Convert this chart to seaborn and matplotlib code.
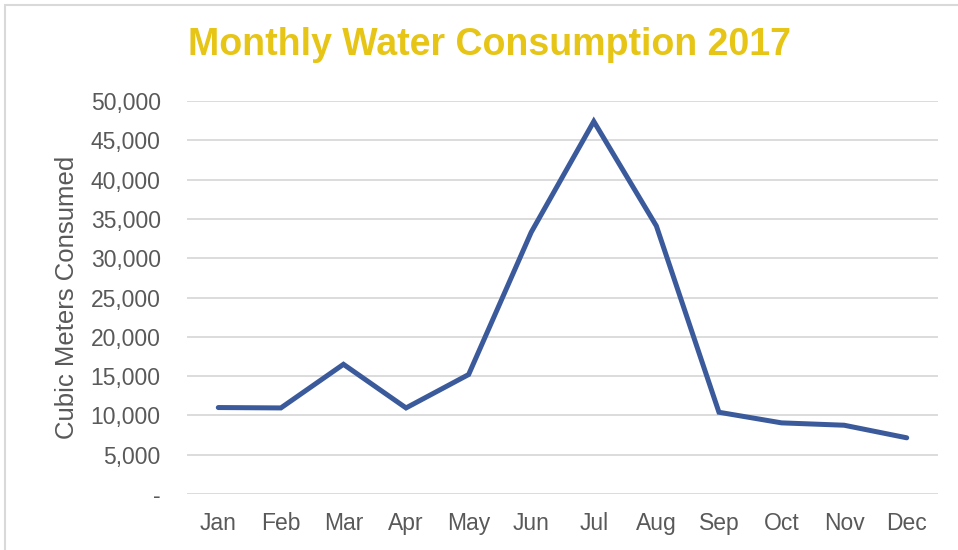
import matplotlib
matplotlib.use("Agg")
import matplotlib.pyplot as plt
import seaborn as sns
import pandas as pd
from matplotlib.ticker import FuncFormatter
from matplotlib.patches import Rectangle

months = ["Jan", "Feb", "Mar", "Apr", "May", "Jun", "Jul", "Aug", "Sep", "Oct", "Nov", "Dec"]
consumption = [11000, 10950, 16500, 10950, 15200, 33300, 47400, 34100, 10400, 9050, 8750, 7150]
y_ticks = list(range(0, 50001, 5000))

df = pd.DataFrame({"month": months, "consumption": consumption})

sns.set_theme(style="white")
plt.rcParams["font.family"] = ["Liberation Sans", "DejaVu Sans"]

fig = plt.figure(figsize=(9.58, 5.5), dpi=100)
ax = fig.add_axes([187 / 958, 1 - 494 / 550, (938 - 187) / 958, (494 - 101) / 550])

sns.lineplot(data=df, x="month", y="consumption", ax=ax, color="#3A5A9B",
             linewidth=3.6, sort=False, solid_capstyle="round", solid_joinstyle="miter")

ax.set_xlim(-0.5, len(months) - 0.5)
ax.set_ylim(0, 50000)
ax.set_yticks(y_ticks)
ax.yaxis.set_major_formatter(FuncFormatter(lambda v, p: "-" if v == 0 else f"{int(v):,}"))
ax.grid(axis="y", color="#D9D9D9", linewidth=1.3)
ax.set_axisbelow(True)
for s in ax.spines.values():
    s.set_visible(False)

ax.tick_params(axis="both", length=0, labelsize=16.5, labelcolor="#595959")
ax.tick_params(axis="y", pad=19)
ax.tick_params(axis="x", pad=13)
ax.set_xlabel("")
ax.set_ylabel("Cubic Meters Consumed", fontsize=18.5, color="#595959", labelpad=8)

fig.text(490 / 958, 1 - 45 / 550, "Monthly Water Consumption 2017", ha="center", va="center",
         fontsize=27, fontweight="bold", color="#E6C516")

# chart border
fig.patches.append(Rectangle((5 / 958, -0.01), 1.02, 1 - 5 / 550 + 0.01, transform=fig.transFigure,
                             fill=False, edgecolor="#D9D9D9", linewidth=1.5))

fig.savefig("out.png", dpi=100)
